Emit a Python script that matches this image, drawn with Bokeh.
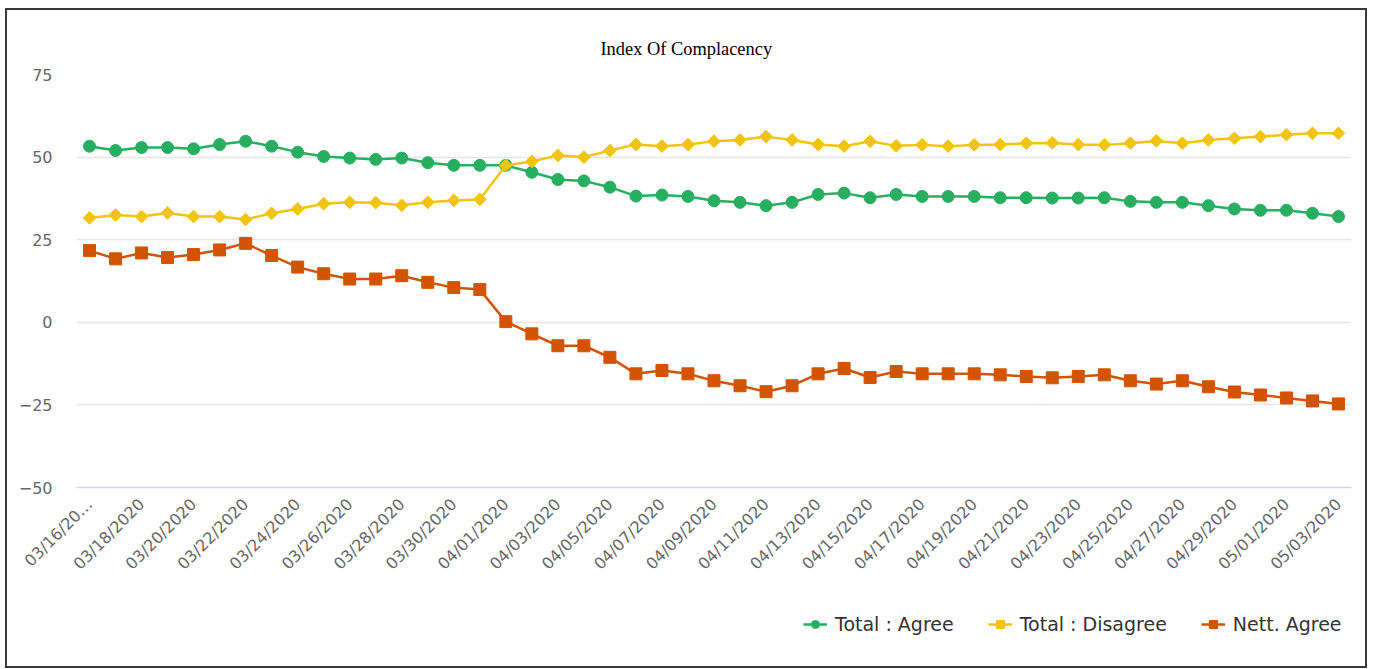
import math
from bokeh.plotting import figure
from bokeh.layouts import column
from bokeh.models import Range1d, FixedTicker, Legend, LegendItem, ColumnDataSource
from bokeh.embed import file_html
from bokeh.resources import INLINE

dates = ["03/16/2020", "03/17/2020", "03/18/2020", "03/19/2020", "03/20/2020", "03/21/2020",
         "03/22/2020", "03/23/2020", "03/24/2020", "03/25/2020", "03/26/2020", "03/27/2020",
         "03/28/2020", "03/29/2020", "03/30/2020", "03/31/2020", "04/01/2020", "04/02/2020",
         "04/03/2020", "04/04/2020", "04/05/2020", "04/06/2020", "04/07/2020", "04/08/2020",
         "04/09/2020", "04/10/2020", "04/11/2020", "04/12/2020", "04/13/2020", "04/14/2020",
         "04/15/2020", "04/16/2020", "04/17/2020", "04/18/2020", "04/19/2020", "04/20/2020",
         "04/21/2020", "04/22/2020", "04/23/2020", "04/24/2020", "04/25/2020", "04/26/2020",
         "04/27/2020", "04/28/2020", "04/29/2020", "04/30/2020", "05/01/2020", "05/02/2020",
         "05/03/2020"]

agree = [53.3, 52.0, 52.9, 52.9, 52.5, 53.8, 54.8, 53.3, 51.5, 50.2, 49.7, 49.3, 49.7, 48.3,
         47.5, 47.5, 47.5, 45.4, 43.2, 42.8, 40.9, 38.2, 38.5, 38.1, 36.8, 36.3, 35.3, 36.3,
         38.7, 39.1, 37.7, 38.7, 38.1, 38.1, 38.1, 37.7, 37.7, 37.6, 37.6, 37.7, 36.6, 36.3,
         36.3, 35.3, 34.3, 33.9, 33.9, 33.0, 32.0]

disagree = [31.6, 32.5, 32.0, 33.1, 32.0, 32.0, 31.1, 33.0, 34.3, 35.9, 36.3, 36.2, 35.4, 36.3,
            36.9, 37.2, 47.5, 48.7, 50.5, 50.0, 52.0, 53.8, 53.3, 53.8, 54.8, 55.2, 56.2, 55.2,
            53.8, 53.3, 54.8, 53.4, 53.7, 53.3, 53.7, 53.8, 54.2, 54.3, 53.8, 53.7, 54.2, 54.9,
            54.2, 55.2, 55.7, 56.2, 56.8, 57.2, 57.2]

nett = [21.7, 19.2, 21.0, 19.6, 20.5, 21.9, 23.9, 20.2, 16.7, 14.7, 13.1, 13.1, 14.1, 12.1,
        10.5, 9.9, 0.2, -3.5, -7.1, -7.1, -10.6, -15.6, -14.6, -15.6, -17.7, -19.2, -21.0, -19.2,
        -15.6, -14.0, -16.7, -14.9, -15.6, -15.6, -15.6, -15.9, -16.4, -16.8, -16.4, -15.9,
        -17.7, -18.7, -17.7, -19.5, -21.1, -22.0, -22.9, -23.8, -24.7]

tick_labels = ["03/16/20…", "03/18/2020", "03/20/2020", "03/22/2020", "03/24/2020",
               "03/26/2020", "03/28/2020", "03/30/2020", "04/01/2020", "04/03/2020",
               "04/05/2020", "04/07/2020", "04/09/2020", "04/11/2020", "04/13/2020",
               "04/15/2020", "04/17/2020", "04/19/2020", "04/21/2020", "04/23/2020",
               "04/25/2020", "04/27/2020", "04/29/2020", "05/01/2020", "05/03/2020"]

y_ticks = [-50, -25, 0, 25, 50, 75]

series_names = ["Total : Agree", "Total : Disagree", "Nett. Agree"]
series_keys = ["agree", "disagree", "nett"]
colors = ["#27AE60", "#F1C40F", "#D35400"]
markers = [("circle", 12, 0), ("square", 9, math.pi / 4), ("square", 12, 0)]

idx = list(range(len(dates)))
source = ColumnDataSource(dict(x=idx, date=dates, agree=agree, disagree=disagree, nett=nett))

W = 1358
p = figure(width=W, height=580, x_range=Range1d(-0.5, len(dates) - 0.5),
           y_range=Range1d(-50, 75), output_backend="svg", toolbar_location=None,
           min_border_left=69, min_border_right=14, min_border_top=64, min_border_bottom=103)
p.outline_line_color = None
p.background_fill_color = "white"
p.border_fill_color = "white"

p.title.text = "Index Of Complacency"
p.title.align = "left"
p.title.offset = 524
p.title.standoff = 31
p.title.text_font = "Liberation Serif"
p.title.text_font_size = "18.4px"
p.title.text_font_style = "normal"
p.title.text_color = "#000000"

xa = p.xaxis[0]
even_ticks = [i for i in idx if i % 2 == 0]
xa.ticker = FixedTicker(ticks=even_ticks)
xa.major_label_overrides = {t: lab for t, lab in zip(even_ticks, tick_labels)}
xa.major_label_orientation = math.pi / 4
xa.axis_line_color = "#ccd6eb"
xa.axis_line_width = 1.5
xa.major_tick_line_color = None
xa.minor_tick_line_color = None
xa.major_label_text_font = "DejaVu Sans"
xa.major_label_text_font_size = "16px"
xa.major_label_text_color = "#666666"
xa.major_label_standoff = 8

ya = p.yaxis[0]
ya.ticker = FixedTicker(ticks=y_ticks)
ya.axis_line_color = None
ya.major_tick_line_color = None
ya.minor_tick_line_color = None
ya.major_label_text_font = "DejaVu Sans"
ya.major_label_text_font_size = "16px"
ya.major_label_text_color = "#666666"
ya.major_label_standoff = 18

p.xgrid.grid_line_color = None
p.ygrid.grid_line_color = "#e6e6e6"
p.ygrid.grid_line_width = 1.5

lw = 2.5
for key, col, (mk, sz, ang) in zip(series_keys, colors, markers):
    p.line("x", key, source=source, color=col, line_width=lw)
    p.scatter("x", key, source=source, marker=mk, size=sz, angle=ang, color=col)

# legend strip below the chart (legend proxies are hidden copies of the series)
q = figure(width=W, height=76, output_backend="svg", toolbar_location=None,
           x_axis_type=None, y_axis_type=None, min_border=0,
           x_range=Range1d(-0.5, len(dates) - 0.5), y_range=Range1d(-50, 75))
q.outline_line_color = None
q.grid.visible = False
q.border_fill_color = "white"
items = []
for name, key, col, (mk, sz, ang) in zip(series_names, series_keys, colors, markers):
    lr = q.line("x", key, source=source, color=col, line_width=lw, visible=False)
    sr = q.scatter("x", key, source=source, marker=mk, size=sz, angle=ang, color=col,
                   visible=False)
    items.append(LegendItem(label=name, renderers=[lr, sr]))

legend = Legend(items=items, orientation="horizontal", location=(727, 31),
                border_line_color=None, background_fill_alpha=0,
                inactive_fill_alpha=0,
                label_text_font="DejaVu Sans", label_text_font_size="19px",
                label_text_color="#333333", glyph_width=24, label_standoff=8,
                spacing=34, padding=10, margin=0, click_policy="none")
q.add_layout(legend)

layout = column(p, q, spacing=0)
layout.styles = {"border": "2px solid #3a3a3a"}
layout.margin = (8, 0, 0, 5)

open("out.html", "w").write(file_html(layout, INLINE))
